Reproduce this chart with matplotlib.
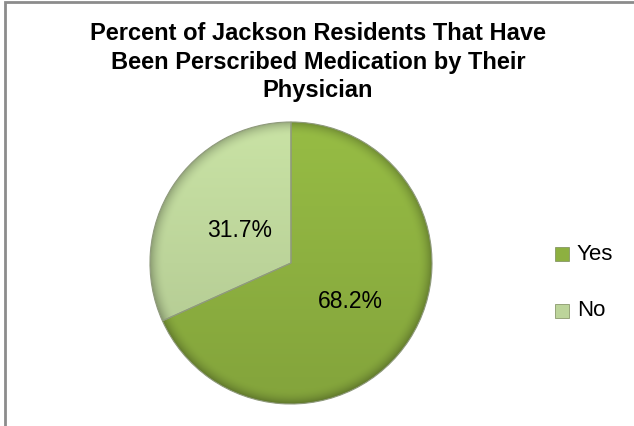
import matplotlib
matplotlib.use("Agg")
import numpy as np
import matplotlib.pyplot as plt
from matplotlib.colors import to_rgb
from matplotlib.patches import Rectangle

labels = ["Yes", "No"]
values = [68.2, 31.7]
colors = ["#8db040", "#bcd49a"]
title = "Percent of Jackson Residents That Have\nBeen Perscribed Medication by Their\nPhysician"

W, H = 634, 426
fig = plt.figure(figsize=(W / 100, H / 100), dpi=100)
ax = fig.add_axes([0, 0, 1, 1])

# chart frame
ax.add_patch(Rectangle((5, -10), W + 20, H - 2 + 10, fill=False,
                       edgecolor="#8c8c8c", linewidth=2))

cx, cy, r = 291, H - 263, 141
wedges, _ = ax.pie(
    values, colors=colors, startangle=90, counterclock=False,
    center=(cx, cy), radius=r, explode=[0, 0.02],
    wedgeprops=dict(edgecolor="#8f9a7c", linewidth=0.8),
    frame=True)
ax.set_xlim(0, W)
ax.set_ylim(0, H)
ax.set_aspect("equal")
ax.axis("off")

# soft shading on each slice: lighter toward the top, darker at the rim
n = 400
xs = np.linspace(cx - r - 6, cx + r + 6, n)
ys = np.linspace(cy - r - 6, cy + r + 6, n)
X, Y = np.meshgrid(xs, ys)
rho = np.hypot(X - cx, Y - cy) / r
vert = (Y - cy) / r
for w, col in zip(wedges, colors):
    base = np.array(to_rgb(col))
    shade = 1 + 0.07 * vert - 0.25 * np.clip((rho - 0.9) / 0.1, 0, 1) ** 2
    img = np.clip(base[None, None, :] * shade[..., None], 0, 1)
    im = ax.imshow(img, extent=(xs[0], xs[-1], ys[0], ys[-1]),
                   origin="lower", interpolation="bilinear", zorder=w.get_zorder())
    im.set_clip_path(w)
    w.set_facecolor("none")
    w.set_zorder(w.get_zorder() + 0.1)

# value labels placed along each slice's mid-angle
for w, v, d in zip(wedges, values, [0.5, 0.43]):
    ang = np.deg2rad((w.theta1 + w.theta2) / 2)
    wx, wy = w.center
    ax.text(wx + d * r * np.cos(ang), wy + d * r * np.sin(ang), f"{v:.1f}%",
            ha="center", va="center", fontsize=16.5, family="Liberation Sans",
            color="black", zorder=5)

ax.text(318, H - 62, title, ha="center", va="center", fontsize=17,
        fontweight="bold", family="Liberation Sans", linespacing=1.32)

# legend
for i, (lab, col) in enumerate(zip(labels, colors)):
    y = H - (254 + i * 57)
    ax.add_patch(Rectangle((555, y - 7), 14, 14, facecolor=col,
                           edgecolor="#7a8a5a", linewidth=0.5))
    ax.text(577, y, lab, ha="left", va="center", fontsize=16,
            family="Liberation Sans")

ax.set_xlim(0, W)
ax.set_ylim(0, H)
fig.savefig("out.png", dpi=100)
